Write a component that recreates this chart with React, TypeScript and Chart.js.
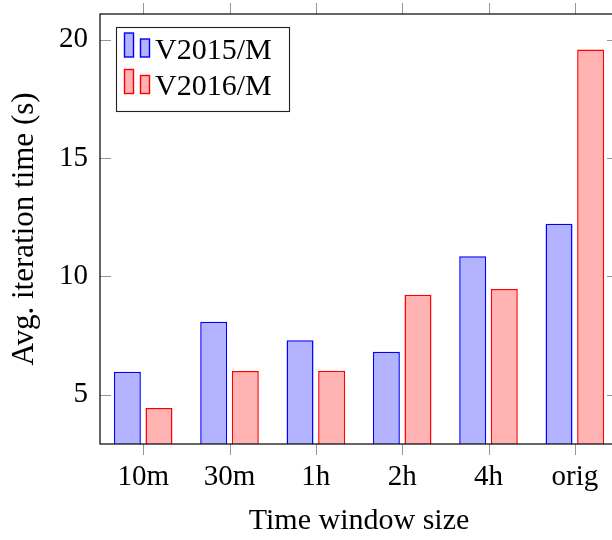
import React, { useEffect, useRef } from "react";
import { Chart, registerables } from "chart.js";

Chart.register(...registerables);

const categories = ["10m", "30m", "1h", "2h", "4h", "orig"];
const v2015 = [5.97, 8.08, 7.3, 6.82, 10.85, 12.22];
const v2016 = [4.44, 6.0, 6.01, 9.22, 9.47, 19.58];
const yTicks = [5, 10, 15, 20];
const seriesLabels = ["V2015/M", "V2016/M"];
const xTitle = "Time window size";
const yTitle = "Avg. iteration time (s)";

const FONT = "'Liberation Serif', 'Times New Roman', serif";
const BLUE_FILL = "rgb(179,179,255)";
const BLUE_LINE = "rgb(0,0,255)";
const RED_FILL = "rgb(255,179,179)";
const RED_LINE = "rgb(255,0,0)";

const framePlugin = {
  id: "pgfFrame",
  afterDraw(chart: any) {
    const { ctx, chartArea } = chart;
    const { left, right, top, bottom } = chartArea;
    const xs = chart.scales.x;
    const ys = chart.scales.y;
    ctx.save();
    // ticks
    ctx.strokeStyle = "rgb(150,150,150)";
    ctx.lineWidth = 1;
    ctx.beginPath();
    categories.forEach((_, i) => {
      const px = Math.round(xs.getPixelForValue(i)) + 0.5;
      ctx.moveTo(px, bottom);
      ctx.lineTo(px, bottom + 11);
      ctx.moveTo(px, top);
      ctx.lineTo(px, top - 11);
    });
    yTicks.forEach((v) => {
      const py = Math.round(ys.getPixelForValue(v)) + 0.5;
      ctx.moveTo(left, py);
      ctx.lineTo(left + 11, py);
      ctx.moveTo(right, py);
      ctx.lineTo(right - 11, py);
    });
    ctx.stroke();
    // frame
    ctx.strokeStyle = "#000";
    ctx.lineWidth = 1.2;
    ctx.strokeRect(left, top, right - left, bottom - top);

    // legend
    const lx = 116.5, ly = 27.5, lw = 173, lh = 84;
    ctx.fillStyle = "#fff";
    ctx.fillRect(lx, ly, lw, lh);
    ctx.strokeStyle = "#222";
    ctx.lineWidth = 1.1;
    ctx.strokeRect(lx, ly, lw, lh);
    const entries = [
      { label: seriesLabels[0], fill: BLUE_FILL, line: BLUE_LINE, y: 57 },
      { label: seriesLabels[1], fill: RED_FILL, line: RED_LINE, y: 93.5 },
    ];
    ctx.font = `30px ${FONT}`;
    ctx.textBaseline = "alphabetic";
    ctx.textAlign = "left";
    entries.forEach((e) => {
      ctx.fillStyle = e.fill;
      ctx.strokeStyle = e.line;
      ctx.lineWidth = 1.4;
      ctx.fillRect(124.5, e.y - 24, 9, 24);
      ctx.strokeRect(124.5, e.y - 24, 9, 24);
      ctx.fillRect(140.5, e.y - 18, 9, 18);
      ctx.strokeRect(140.5, e.y - 18, 9, 18);
      ctx.fillStyle = "#000";
      ctx.fillText(e.label, 155, e.y + 1.5);
    });
    ctx.restore();
  },
};

export default function App() {
  const ref = useRef<HTMLCanvasElement | null>(null);
  useEffect(() => {
    if (!ref.current) return;
    const chart = new Chart(ref.current, {
      type: "bar",
      data: {
        labels: categories,
        datasets: [
          {
            label: seriesLabels[0],
            data: v2015,
            backgroundColor: BLUE_FILL,
            borderColor: BLUE_LINE,
            borderWidth: 1.5,
            borderSkipped: false,
          },
          {
            label: seriesLabels[1],
            data: v2016,
            backgroundColor: RED_FILL,
            borderColor: RED_LINE,
            borderWidth: 1.5,
            borderSkipped: false,
          },
        ],
      },
      plugins: [framePlugin],
      options: {
        responsive: false,
        animation: false,
        devicePixelRatio: 1,
        layout: { padding: { top: 14, right: 2, left: 0, bottom: 0 } },
        datasets: { bar: { categoryPercentage: 0.732, barPercentage: 0.854 } },
        plugins: {
          legend: { display: false },
          tooltip: { enabled: false },
        },
        scales: {
          x: {
            type: "category",
            offset: true,
            grid: { display: false, drawTicks: false },
            border: { display: false },
            ticks: {
              color: "#000",
              font: { family: FONT, size: 29 },
              padding: 16,
              maxRotation: 0,
              autoSkip: false,
            },
            title: {
              display: true,
              text: xTitle,
              color: "#000",
              font: { family: FONT, size: 30, lineHeight: 1.2 },
              padding: { top: 0, bottom: 1 },
            },
            afterFit: (s: any) => {
              s.height = 96;
              s.paddingLeft = 0;
              s.paddingRight = 0;
            },
          },
          y: {
            min: 2.92,
            max: 21.08,
            grid: { display: false, drawTicks: false },
            border: { display: false },
            afterBuildTicks: (s: any) => {
              s.ticks = yTicks.map((v) => ({ value: v }));
            },
            ticks: {
              color: "#000",
              font: { family: FONT, size: 29 },
              padding: 12,
            },
            title: {
              display: true,
              text: yTitle,
              color: "#000",
              font: { family: FONT, size: 31, lineHeight: 1.2 },
              padding: { top: 6, bottom: 0 },
            },
            afterFit: (s: any) => {
              s.width = 100;
              s.paddingTop = 0;
              s.paddingBottom = 0;
            },
          },
        },
      },
    });
    return () => chart.destroy();
  }, []);
  return (
    <div style={{ position: "fixed", left: 0, top: 0, width: 620, height: 540, overflow: "hidden", background: "#fff" }}>
      <canvas ref={ref} width={620} height={540} style={{ width: 620, height: 540, display: "block" }} />
    </div>
  );
}
